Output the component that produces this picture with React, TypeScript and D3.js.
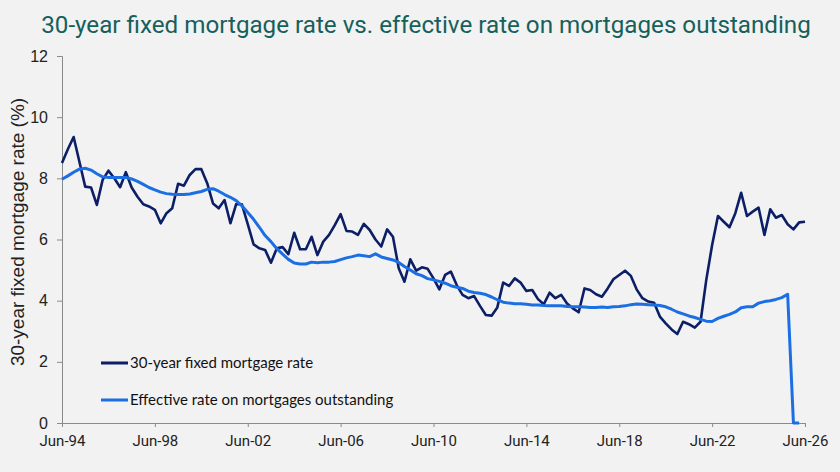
import React, { useEffect, useRef } from "react"
import * as d3 from "d3"

// quarterly observations, Jun-94 .. Jun-26
const startQuarter = new Date(1994, 5, 1)

const fixedRate = [
  8.5, 8.95, 9.35, 8.55, 7.73, 7.7, 7.13, 7.95, 8.25, 8.0,
  7.71, 8.2, 7.7, 7.4, 7.15, 7.08, 6.97, 6.53, 6.86, 7.02,
  7.82, 7.76, 8.11, 8.3, 8.3, 7.84, 7.18, 7.02, 7.29, 6.53,
  7.16, 7.15, 6.5, 5.84, 5.71, 5.66, 5.24, 5.71, 5.75, 5.52,
  6.22, 5.68, 5.68, 6.09, 5.49, 5.93, 6.15, 6.47, 6.83, 6.28,
  6.26, 6.15, 6.51, 6.31, 6.0, 5.77, 6.33, 6.09, 5.06, 4.62,
  5.35, 4.98, 5.09, 5.04, 4.73, 4.37, 4.84, 4.95, 4.51, 4.19,
  4.08, 4.15, 3.83, 3.53, 3.51, 3.78, 4.59, 4.48, 4.73, 4.59,
  4.32, 4.35, 4.05, 3.88, 4.26, 4.08, 4.19, 3.91, 3.75, 3.62,
  4.4, 4.35, 4.21, 4.13, 4.4, 4.7, 4.84, 4.98, 4.81, 4.37,
  4.08, 3.97, 3.93, 3.48, 3.26, 3.06, 2.91, 3.31, 3.23, 3.12,
  3.31, 4.68, 5.82, 6.77, 6.58, 6.4, 6.86, 7.53, 6.77, 6.91,
  7.04, 6.15, 6.99, 6.71, 6.8, 6.5, 6.33, 6.56, 6.58,
]

const effectiveRate = [
  7.97, 8.08, 8.2, 8.3, 8.33, 8.27, 8.15, 8.05, 8.03, 8.03,
  8.03, 8.03, 7.98, 7.9, 7.8, 7.7, 7.62, 7.55, 7.5, 7.48,
  7.47, 7.47, 7.49, 7.53, 7.57, 7.64, 7.66, 7.58, 7.47, 7.38,
  7.27, 7.1, 6.88, 6.66, 6.4, 6.13, 5.93, 5.7, 5.52, 5.35,
  5.23, 5.2, 5.2, 5.26, 5.24, 5.26, 5.26, 5.28, 5.34, 5.4,
  5.44, 5.49, 5.47, 5.44, 5.53, 5.43, 5.38, 5.33, 5.25, 5.12,
  5.0, 4.88, 4.82, 4.72, 4.68, 4.63, 4.57, 4.49, 4.44, 4.4,
  4.31, 4.27, 4.24, 4.2, 4.12, 4.03, 3.95, 3.92, 3.9, 3.9,
  3.88, 3.86, 3.86, 3.84, 3.83, 3.83, 3.83, 3.81, 3.8, 3.8,
  3.79, 3.78, 3.78, 3.79, 3.78, 3.8, 3.81, 3.83, 3.87, 3.89,
  3.88, 3.87, 3.86, 3.84, 3.8, 3.72, 3.63, 3.57, 3.5, 3.45,
  3.39, 3.33, 3.32, 3.42, 3.49, 3.55, 3.63, 3.77, 3.8, 3.8,
  3.92, 3.97, 4.0, 4.04, 4.1, 4.21, 0, 0,
]

const seriesNames = ["30-year fixed mortgage rate", "Effective rate on mortgages outstanding"]
const seriesColors = ["#0c1f66", "#1b6fe3"]
const yTicks = [0, 2, 4, 6, 8, 10, 12]
const xTickYears = [1994, 1998, 2002, 2006, 2010, 2014, 2018, 2022, 2026]

const W = 840
const H = 472
const margin = { top: 56, right: 35, bottom: 49, left: 62 }

const App = () => {
  const ref = useRef<SVGSVGElement>(null)

  useEffect(() => {
    const svg = d3.select(ref.current)
    svg.selectAll("*").remove()

    const innerW = W - margin.left - margin.right
    const innerH = H - margin.top - margin.bottom

    const dateAt = (i: number) => d3.timeMonth.offset(startQuarter, i * 3)

    const x = d3
      .scaleTime()
      .domain([new Date(1994, 5, 1), new Date(2026, 5, 1)])
      .range([0, innerW])
    const y = d3.scaleLinear().domain([0, 12]).range([innerH, 0])

    svg.append("rect").attr("width", W).attr("height", H).attr("fill", "#f2f2f2")

    svg
      .append("text")
      .attr("x", 426)
      .attr("y", 33)
      .attr("text-anchor", "middle")
      .attr("font-family", "Roboto, sans-serif")
      .attr("font-size", 24.2)
      .attr("fill", "#16605b")
      .text("30-year fixed mortgage rate vs. effective rate on mortgages outstanding")

    const g = svg.append("g").attr("transform", `translate(${margin.left},${margin.top})`)

    const yAxis = g
      .append("g")
      .call(
        d3
          .axisLeft(y)
          .tickValues(yTicks)
          .tickSize(5)
          .tickPadding(9)
          .tickFormat(d3.format("d"))
      )
    yAxis.select(".domain").attr("stroke", "#8a8a8a")
    yAxis.selectAll(".tick line").attr("stroke", "#8a8a8a")
    yAxis
      .selectAll(".tick text")
      .attr("font-family", "'Liberation Sans', Arial, sans-serif")
      .attr("font-size", 16)
      .attr("fill", "#222")

    const xAxis = g
      .append("g")
      .attr("transform", `translate(0,${innerH})`)
      .call(
        d3
          .axisBottom(x)
          .tickValues(xTickYears.map((yr) => new Date(yr, 5, 1)))
          .tickSize(4)
          .tickPadding(8)
          .tickFormat((d) => d3.timeFormat("%b-%y")(d as Date))
      )
    xAxis.select(".domain").attr("stroke", "#8a8a8a")
    xAxis.selectAll(".tick line").attr("stroke", "#8a8a8a")
    xAxis
      .selectAll(".tick text")
      .attr("font-family", "Roboto, Arial, sans-serif")
      .attr("font-size", 15)
      .attr("fill", "#222")

    svg
      .append("text")
      .attr("transform", `translate(24,232) rotate(-90)`)
      .attr("text-anchor", "middle")
      .attr("font-family", "'Liberation Sans', Arial, sans-serif")
      .attr("font-size", 19)
      .attr("fill", "#222")
      .text("30-year fixed mortgage rate (%)")

    const line = d3
      .line<number>()
      .x((_, i) => x(dateAt(i)))
      .y((d) => y(d))

    ;[fixedRate, effectiveRate].forEach((vals, k) => {
      g.append("path")
        .datum(vals)
        .attr("fill", "none")
        .attr("stroke", seriesColors[k])
        .attr("stroke-width", k === 0 ? 2.6 : 3)
        .attr("stroke-linejoin", "round")
        .attr("d", line)
    })

    const legend = svg.append("g").attr("transform", "translate(101,363)")
    seriesNames.forEach((name, k) => {
      const row = legend.append("g").attr("transform", `translate(0,${k * 37})`)
      row
        .append("line")
        .attr("x1", 0)
        .attr("x2", 27)
        .attr("stroke", seriesColors[k])
        .attr("stroke-width", 3)
      row
        .append("text")
        .attr("x", 29)
        .attr("y", 5)
        .attr("font-family", "Lato, 'Noto Sans', sans-serif")
        .attr("font-size", 15)
        .attr("fill", "#111")
        .text(name)
    })
  }, [])

  return (
    <div style={{ position: "absolute", left: 0, top: 0 }}>
      <svg ref={ref} width={W} height={H} style={{ display: "block" }} />
    </div>
  )
}

export default App
